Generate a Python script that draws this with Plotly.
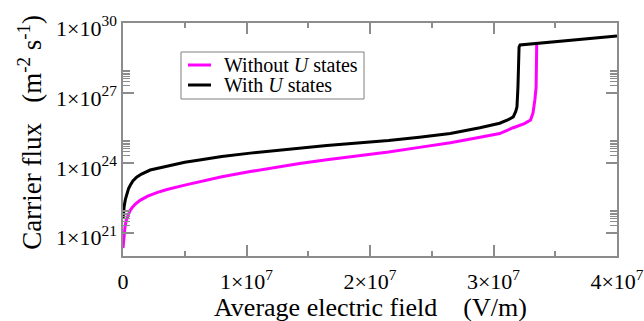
import plotly.graph_objects as go

# Average electric field (V/m) and carrier flux (m^-2 s^-1)
field_without_u = [0, 0.5e5, 1e5, 1.6e5, 2.5e5, 4e5, 5.7e5, 8e5, 1.0e6, 1.38e6, 2.0e6, 2.8e6,
                   3.56e6, 5.0e6, 6.2e6, 8.0e6, 1.03e7, 1.2e7, 1.43e7, 1.65e7, 1.91e7, 2.15e7,
                   2.4e7, 2.65e7, 2.87e7, 3.05e7, 3.16e7, 3.25e7, 3.3e7, 3.32e7, 3.335e7,
                   3.345e7, 3.35e7]
flux_without_u = [2.2e20, 5.6e20, 1.0e21, 1.74e21, 3.2e21, 5.6e21, 8.9e21, 1.32e22, 1.7e22,
                  2.45e22, 3.7e22, 5.4e22, 7.1e22, 1.1e23, 1.55e23, 2.5e23, 4.2e23, 6.0e23,
                  9.3e23, 1.35e24, 2.0e24, 2.9e24, 4.6e24, 7.2e24, 1.2e25, 1.8e25, 3.2e25,
                  4.8e25, 6.9e25, 1.38e26, 5.0e26, 1.78e27, 1.26e29]

field_with_u = [0, 0.5e5, 1e5, 2e5, 3e5, 4.5e5, 6e5, 8e5, 1.1e6, 1.5e6, 2.2e6, 3.0e6, 4.0e6,
                5.0e6, 6.2e6, 8.0e6, 1.03e7, 1.25e7, 1.43e7, 1.65e7, 1.9e7, 2.15e7, 2.4e7,
                2.65e7, 2.89e7, 3.05e7, 3.12e7, 3.16e7, 3.18e7, 3.19e7, 3.198e7, 3.207e7,
                3.215e7, 4.0e7]
flux_with_u = [4.0e21, 8.9e21, 1.41e22, 2.8e22, 4.5e22, 7.9e22, 1.12e23, 1.66e23, 2.4e23,
               3.3e23, 4.9e23, 6.2e23, 8.3e23, 1.05e24, 1.32e24, 1.86e24, 2.6e24, 3.4e24,
               4.4e24, 5.5e24, 7.1e24, 9.1e24, 1.26e25, 1.8e25, 3.2e25, 5.0e25, 7.1e25,
               9.3e25, 1.6e26, 2.5e26, 1.78e27, 9.3e28, 1.15e29, 2.75e29]

series_names = ["Without <i>U</i> states", "With <i>U</i> states"]
series_colors = ["#ff00ff", "#000000"]

x_tickvals = [0, 1e7, 2e7, 3e7, 4e7]
x_ticktext = ["0", "1×10<sup>7</sup>", "2×10<sup>7</sup>", "3×10<sup>7</sup>", "4×10<sup>7</sup>"]
x_minor = [0.5e7, 1.5e7, 2.5e7, 3.5e7]

y_tickvals = [1e21, 1e24, 1e27, 1e30]
y_ticktext = ["1×10<sup>21</sup>", "1×10<sup>24</sup>", "1×10<sup>27</sup>", "1×10<sup>30</sup>"]
y_minor = [m * base for base in (1e21, 1e24, 1e27) for m in range(2, 10)]

SERIF = "Liberation Serif, Tinos, Times New Roman, serif"
AXIS_GREY = "#8c8c8c"
NBSP = "\u00a0"

fig = go.Figure()
for xs, ys, name, color in zip([field_without_u, field_with_u], [flux_without_u, flux_with_u],
                               series_names, series_colors):
    fig.add_trace(go.Scatter(x=xs, y=ys, mode="lines", name=name, showlegend=False,
                             line=dict(color=color, width=3)))

# Boxed legend in the upper-left part of the plot area
legend_box = dict(x0=0.1174, x1=0.4879, y0=0.6738, y1=0.8755)
legend_rows = [0.8197, 0.7339]
shapes = [dict(type="rect", xref="paper", yref="paper", line=dict(color="#808080", width=1),
               fillcolor="white", layer="above", **legend_box)]
annotations = []
for row_y, name, color in zip(legend_rows, series_names, series_colors):
    shapes.append(dict(type="line", xref="paper", yref="paper", x0=0.1316, x1=0.1781,
                       y0=row_y, y1=row_y, line=dict(color=color, width=3), layer="above"))
    annotations.append(dict(text=name, xref="paper", yref="paper", x=0.2004, y=row_y,
                            xanchor="left", yanchor="middle", showarrow=False,
                            font=dict(family=SERIF, size=20, color="black")))

# Axis titles
annotations.append(dict(text="Average electric field" + NBSP * 4 + "(V/m)",
                        xref="paper", yref="paper", x=0.5, y=-0.223,
                        xanchor="center", yanchor="middle", showarrow=False,
                        font=dict(family=SERIF, size=26, color="black")))
annotations.append(dict(text="Carrier flux" + NBSP * 3 + "(m<sup>-2</sup> s<sup>-1</sup>)",
                        xref="paper", yref="paper", x=-0.19, y=0.53, textangle=-90,
                        xanchor="center", yanchor="middle", showarrow=False,
                        font=dict(family=SERIF, size=27, color="black")))

fig.update_layout(
    width=644, height=321,
    margin=dict(l=123, r=27, t=23, b=65, autoexpand=False),
    paper_bgcolor="white", plot_bgcolor="white",
    font=dict(family=SERIF, color="black"),
    showlegend=False,
    shapes=shapes,
    annotations=annotations,
    xaxis=dict(
        range=[0, 4e7], showgrid=False, zeroline=False, automargin=False,
        showline=True, linecolor=AXIS_GREY, linewidth=1.5, mirror="ticks",
        ticks="inside", ticklen=11, tickwidth=1.5, tickcolor=AXIS_GREY,
        tickmode="array", tickvals=x_tickvals, ticktext=x_ticktext,
        tickfont=dict(family=SERIF, size=22), ticklabelstandoff=5,
        minor=dict(tickmode="array", tickvals=x_minor, ticks="inside",
                   ticklen=5, tickwidth=1.5, tickcolor=AXIS_GREY),
    ),
    yaxis=dict(
        type="log", range=[20, 30], showgrid=False, zeroline=False, automargin=False,
        showline=True, linecolor=AXIS_GREY, linewidth=1.5, mirror="ticks",
        ticks="inside", ticklen=11, tickwidth=1.5, tickcolor=AXIS_GREY,
        tickmode="array", tickvals=y_tickvals, ticktext=y_ticktext,
        tickfont=dict(family=SERIF, size=22), ticklabelshift=5,
        minor=dict(tickmode="array", tickvals=y_minor, ticks="inside",
                   ticklen=7, tickwidth=1, tickcolor=AXIS_GREY),
    ),
)

fig.write_html("out.html")
